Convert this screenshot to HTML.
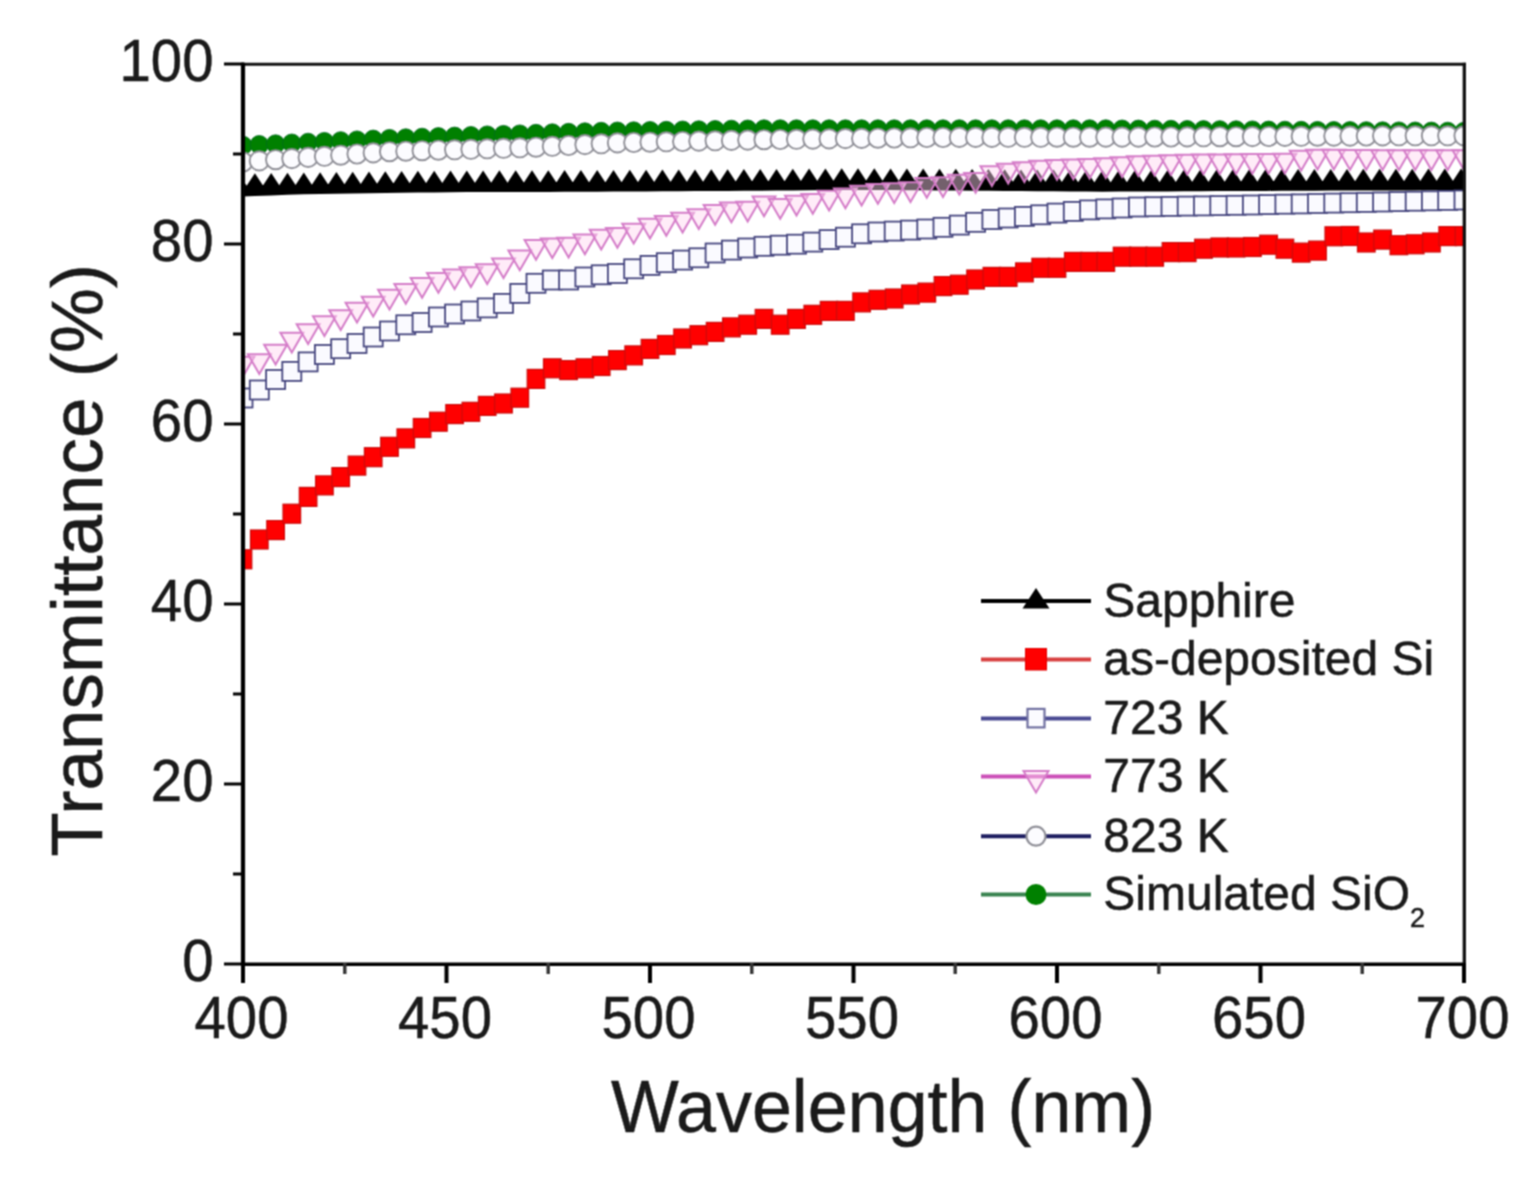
<!DOCTYPE html>
<html><head><meta charset="utf-8"><title>Transmittance vs Wavelength</title>
<style>
html,body{margin:0;padding:0;background:#fff;}
body{width:1532px;height:1180px;overflow:hidden;}
svg{display:block;}
text{font-family:"Liberation Sans",Arial,sans-serif;fill:#1a1a1a;stroke:#1a1a1a;stroke-width:0.5px;}
.tk{font-size:59px;}
.al{font-size:73.9px;}
.yl{font-size:72.9px;}
.lg{font-size:48px;}
.sub{font-size:27px;}
</style></head>
<body>
<svg width="1532" height="1180" viewBox="0 0 1532 1180">
<defs><filter id="soft" x="0" y="0" width="1532" height="1180" filterUnits="userSpaceOnUse" color-interpolation-filters="sRGB"><feConvolveMatrix order="3" kernelMatrix="1 2 1 2 4 2 1 2 1" divisor="16" edgeMode="duplicate"/></filter></defs>
<g filter="url(#soft)">
<rect width="1532" height="1180" fill="#fff"/>
<defs><clipPath id="pc"><rect x="243" y="64" width="1221" height="900"/></clipPath></defs>
<g clip-path="url(#pc)">
<polygon points="238.6,186.5 254.9,186.3 271.2,186.1 287.5,185.8 303.8,185.5 320.1,185.3 336.4,185.0 352.7,184.8 369.0,184.5 385.3,184.2 401.6,184.0 417.9,183.8 434.2,183.7 450.5,183.5 466.8,183.4 483.1,183.4 499.4,183.3 515.7,183.3 532.0,183.2 548.3,183.2 564.6,183.1 580.9,183.1 597.2,183.0 613.5,182.9 629.8,182.8 646.1,182.7 662.4,182.6 678.7,182.5 695.0,182.4 711.3,182.3 727.6,182.2 743.9,182.1 760.2,182.0 776.5,181.9 792.8,181.7 809.1,181.6 825.4,181.4 841.7,181.3 858.0,181.2 874.3,181.3 890.6,181.4 906.9,181.5 923.2,181.6 939.5,181.7 955.8,181.8 972.1,182.0 988.4,182.1 1004.7,182.2 1021.0,182.4 1037.3,182.5 1053.6,182.6 1069.9,182.8 1086.2,182.9 1102.5,183.0 1118.8,182.9 1135.1,182.8 1151.4,182.7 1167.7,182.7 1184.0,182.6 1200.3,182.5 1216.6,182.4 1232.9,182.3 1249.2,182.3 1265.5,182.2 1281.8,182.1 1298.1,182.0 1314.4,182.0 1330.7,181.9 1347.0,181.9 1363.3,181.8 1379.6,181.8 1395.9,181.7 1412.2,181.7 1428.5,181.6 1444.8,181.6 1461.1,181.5 1477.4,181.5 1477.4,190.2 1461.1,190.2 1444.8,190.3 1428.5,190.3 1412.2,190.4 1395.9,190.4 1379.6,190.5 1363.3,190.5 1347.0,190.6 1330.7,190.6 1314.4,190.7 1298.1,190.7 1281.8,190.8 1265.5,190.9 1249.2,191.0 1232.9,191.0 1216.6,191.1 1200.3,191.2 1184.0,191.3 1167.7,191.4 1151.4,191.4 1135.1,191.5 1118.8,191.6 1102.5,191.7 1086.2,191.6 1069.9,191.5 1053.6,191.3 1037.3,191.2 1021.0,191.1 1004.7,190.9 988.4,190.8 972.1,190.7 955.8,190.5 939.5,190.4 923.2,190.3 906.9,190.2 890.6,190.1 874.3,190.0 858.0,189.9 841.7,190.0 825.4,190.1 809.1,190.3 792.8,190.4 776.5,190.6 760.2,190.7 743.9,190.8 727.6,190.9 711.3,191.0 695.0,191.1 678.7,191.2 662.4,191.3 646.1,191.4 629.8,191.5 613.5,191.6 597.2,191.7 580.9,191.8 564.6,191.8 548.3,191.9 532.0,191.9 515.7,192.0 499.4,192.0 483.1,192.1 466.8,192.1 450.5,192.2 434.2,192.4 417.9,192.5 401.6,192.7 385.3,192.9 369.0,193.2 352.7,193.5 336.4,193.7 320.1,194.0 303.8,194.2 287.5,194.8 271.2,195.5 254.9,196.1 238.6,196.7" fill="#000"/>
<path d="M238.6,173.5L252.1,194.0L225.1,194.0ZM254.9,173.3L268.4,193.8L241.4,193.8ZM271.2,173.1L284.7,193.6L257.7,193.6ZM287.5,172.8L301.0,193.3L274.0,193.3ZM303.8,172.5L317.3,193.0L290.3,193.0ZM320.1,172.3L333.6,192.8L306.6,192.8ZM336.4,172.0L349.9,192.5L322.9,192.5ZM352.7,171.8L366.2,192.3L339.2,192.3ZM369.0,171.5L382.5,192.0L355.5,192.0ZM385.3,171.2L398.8,191.7L371.8,191.7ZM401.6,171.0L415.1,191.5L388.1,191.5ZM417.9,170.8L431.4,191.3L404.4,191.3ZM434.2,170.7L447.7,191.2L420.7,191.2ZM450.5,170.5L464.0,191.0L437.0,191.0ZM466.8,170.4L480.3,190.9L453.3,190.9ZM483.1,170.4L496.6,190.9L469.6,190.9ZM499.4,170.3L512.9,190.8L485.9,190.8ZM515.7,170.3L529.2,190.8L502.2,190.8ZM532.0,170.2L545.5,190.7L518.5,190.7ZM548.3,170.2L561.8,190.7L534.8,190.7ZM564.6,170.1L578.1,190.6L551.1,190.6ZM580.9,170.1L594.4,190.6L567.4,190.6ZM597.2,170.0L610.7,190.5L583.7,190.5ZM613.5,169.9L627.0,190.4L600.0,190.4ZM629.8,169.8L643.3,190.3L616.3,190.3ZM646.1,169.7L659.6,190.2L632.6,190.2ZM662.4,169.6L675.9,190.1L648.9,190.1ZM678.7,169.5L692.2,190.0L665.2,190.0ZM695.0,169.4L708.5,189.9L681.5,189.9ZM711.3,169.3L724.8,189.8L697.8,189.8ZM727.6,169.2L741.1,189.7L714.1,189.7ZM743.9,169.1L757.4,189.6L730.4,189.6ZM760.2,169.0L773.7,189.5L746.7,189.5ZM776.5,168.9L790.0,189.4L763.0,189.4ZM792.8,168.7L806.3,189.2L779.3,189.2ZM809.1,168.6L822.6,189.1L795.6,189.1ZM825.4,168.4L838.9,188.9L811.9,188.9ZM841.7,168.3L855.2,188.8L828.2,188.8ZM858.0,168.2L871.5,188.7L844.5,188.7ZM874.3,168.3L887.8,188.8L860.8,188.8ZM890.6,168.4L904.1,188.9L877.1,188.9ZM906.9,168.5L920.4,189.0L893.4,189.0ZM923.2,168.6L936.7,189.1L909.7,189.1ZM939.5,168.7L953.0,189.2L926.0,189.2ZM955.8,168.8L969.3,189.3L942.3,189.3ZM972.1,169.0L985.6,189.5L958.6,189.5ZM988.4,169.1L1001.9,189.6L974.9,189.6ZM1004.7,169.2L1018.2,189.7L991.2,189.7ZM1021.0,169.4L1034.5,189.9L1007.5,189.9ZM1037.3,169.5L1050.8,190.0L1023.8,190.0ZM1053.6,169.6L1067.1,190.1L1040.1,190.1ZM1069.9,169.8L1083.4,190.3L1056.4,190.3ZM1086.2,169.9L1099.7,190.4L1072.7,190.4ZM1102.5,170.0L1116.0,190.5L1089.0,190.5ZM1118.8,169.9L1132.3,190.4L1105.3,190.4ZM1135.1,169.8L1148.6,190.3L1121.6,190.3ZM1151.4,169.7L1164.9,190.2L1137.9,190.2ZM1167.7,169.7L1181.2,190.2L1154.2,190.2ZM1184.0,169.6L1197.5,190.1L1170.5,190.1ZM1200.3,169.5L1213.8,190.0L1186.8,190.0ZM1216.6,169.4L1230.1,189.9L1203.1,189.9ZM1232.9,169.3L1246.4,189.8L1219.4,189.8ZM1249.2,169.3L1262.7,189.8L1235.7,189.8ZM1265.5,169.2L1279.0,189.7L1252.0,189.7ZM1281.8,169.1L1295.3,189.6L1268.3,189.6ZM1298.1,169.0L1311.6,189.5L1284.6,189.5ZM1314.4,169.0L1327.9,189.5L1300.9,189.5ZM1330.7,168.9L1344.2,189.4L1317.2,189.4ZM1347.0,168.9L1360.5,189.4L1333.5,189.4ZM1363.3,168.8L1376.8,189.3L1349.8,189.3ZM1379.6,168.8L1393.1,189.3L1366.1,189.3ZM1395.9,168.7L1409.4,189.2L1382.4,189.2ZM1412.2,168.7L1425.7,189.2L1398.7,189.2ZM1428.5,168.6L1442.0,189.1L1415.0,189.1ZM1444.8,168.6L1458.3,189.1L1431.3,189.1ZM1461.1,168.5L1474.6,189.0L1447.6,189.0ZM1477.4,168.5L1490.9,189.0L1463.9,189.0Z" fill="#000"/>
<rect x="234.2" y="549.8" width="17.6" height="19.0" fill="#ff0000" stroke="#cc0a0a" stroke-width="1.2"/>
<rect x="250.5" y="530.0" width="17.6" height="19.0" fill="#ff0000" stroke="#cc0a0a" stroke-width="1.2"/>
<rect x="266.8" y="520.6" width="17.6" height="19.0" fill="#ff0000" stroke="#cc0a0a" stroke-width="1.2"/>
<rect x="283.0" y="504.2" width="17.6" height="19.0" fill="#ff0000" stroke="#cc0a0a" stroke-width="1.2"/>
<rect x="299.3" y="487.4" width="17.6" height="19.0" fill="#ff0000" stroke="#cc0a0a" stroke-width="1.2"/>
<rect x="315.6" y="475.9" width="17.6" height="19.0" fill="#ff0000" stroke="#cc0a0a" stroke-width="1.2"/>
<rect x="331.9" y="467.6" width="17.6" height="19.0" fill="#ff0000" stroke="#cc0a0a" stroke-width="1.2"/>
<rect x="348.2" y="456.1" width="17.6" height="19.0" fill="#ff0000" stroke="#cc0a0a" stroke-width="1.2"/>
<rect x="364.4" y="447.7" width="17.6" height="19.0" fill="#ff0000" stroke="#cc0a0a" stroke-width="1.2"/>
<rect x="380.7" y="437.3" width="17.6" height="19.0" fill="#ff0000" stroke="#cc0a0a" stroke-width="1.2"/>
<rect x="397.0" y="428.9" width="17.6" height="19.0" fill="#ff0000" stroke="#cc0a0a" stroke-width="1.2"/>
<rect x="413.3" y="418.5" width="17.6" height="19.0" fill="#ff0000" stroke="#cc0a0a" stroke-width="1.2"/>
<rect x="429.6" y="412.2" width="17.6" height="19.0" fill="#ff0000" stroke="#cc0a0a" stroke-width="1.2"/>
<rect x="445.8" y="404.6" width="17.6" height="19.0" fill="#ff0000" stroke="#cc0a0a" stroke-width="1.2"/>
<rect x="462.1" y="402.3" width="17.6" height="19.0" fill="#ff0000" stroke="#cc0a0a" stroke-width="1.2"/>
<rect x="478.4" y="396.4" width="17.6" height="19.0" fill="#ff0000" stroke="#cc0a0a" stroke-width="1.2"/>
<rect x="494.7" y="394.0" width="17.6" height="19.0" fill="#ff0000" stroke="#cc0a0a" stroke-width="1.2"/>
<rect x="511.0" y="388.2" width="17.6" height="19.0" fill="#ff0000" stroke="#cc0a0a" stroke-width="1.2"/>
<rect x="527.2" y="369.4" width="17.6" height="19.0" fill="#ff0000" stroke="#cc0a0a" stroke-width="1.2"/>
<rect x="543.5" y="358.8" width="17.6" height="19.0" fill="#ff0000" stroke="#cc0a0a" stroke-width="1.2"/>
<rect x="559.8" y="360.6" width="17.6" height="19.0" fill="#ff0000" stroke="#cc0a0a" stroke-width="1.2"/>
<rect x="576.1" y="358.8" width="17.6" height="19.0" fill="#ff0000" stroke="#cc0a0a" stroke-width="1.2"/>
<rect x="592.4" y="356.5" width="17.6" height="19.0" fill="#ff0000" stroke="#cc0a0a" stroke-width="1.2"/>
<rect x="608.6" y="350.6" width="17.6" height="19.0" fill="#ff0000" stroke="#cc0a0a" stroke-width="1.2"/>
<rect x="624.9" y="345.9" width="17.6" height="19.0" fill="#ff0000" stroke="#cc0a0a" stroke-width="1.2"/>
<rect x="641.2" y="339.4" width="17.6" height="19.0" fill="#ff0000" stroke="#cc0a0a" stroke-width="1.2"/>
<rect x="657.5" y="335.5" width="17.6" height="19.0" fill="#ff0000" stroke="#cc0a0a" stroke-width="1.2"/>
<rect x="673.8" y="329.0" width="17.6" height="19.0" fill="#ff0000" stroke="#cc0a0a" stroke-width="1.2"/>
<rect x="690.0" y="325.7" width="17.6" height="19.0" fill="#ff0000" stroke="#cc0a0a" stroke-width="1.2"/>
<rect x="706.3" y="322.4" width="17.6" height="19.0" fill="#ff0000" stroke="#cc0a0a" stroke-width="1.2"/>
<rect x="722.6" y="317.9" width="17.6" height="19.0" fill="#ff0000" stroke="#cc0a0a" stroke-width="1.2"/>
<rect x="738.9" y="315.2" width="17.6" height="19.0" fill="#ff0000" stroke="#cc0a0a" stroke-width="1.2"/>
<rect x="755.2" y="309.4" width="17.6" height="19.0" fill="#ff0000" stroke="#cc0a0a" stroke-width="1.2"/>
<rect x="771.4" y="315.2" width="17.6" height="19.0" fill="#ff0000" stroke="#cc0a0a" stroke-width="1.2"/>
<rect x="787.7" y="309.4" width="17.6" height="19.0" fill="#ff0000" stroke="#cc0a0a" stroke-width="1.2"/>
<rect x="804.0" y="305.3" width="17.6" height="19.0" fill="#ff0000" stroke="#cc0a0a" stroke-width="1.2"/>
<rect x="820.3" y="301.4" width="17.6" height="19.0" fill="#ff0000" stroke="#cc0a0a" stroke-width="1.2"/>
<rect x="836.6" y="301.4" width="17.6" height="19.0" fill="#ff0000" stroke="#cc0a0a" stroke-width="1.2"/>
<rect x="852.8" y="292.9" width="17.6" height="19.0" fill="#ff0000" stroke="#cc0a0a" stroke-width="1.2"/>
<rect x="869.1" y="290.3" width="17.6" height="19.0" fill="#ff0000" stroke="#cc0a0a" stroke-width="1.2"/>
<rect x="885.4" y="289.0" width="17.6" height="19.0" fill="#ff0000" stroke="#cc0a0a" stroke-width="1.2"/>
<rect x="901.7" y="285.0" width="17.6" height="19.0" fill="#ff0000" stroke="#cc0a0a" stroke-width="1.2"/>
<rect x="918.0" y="283.1" width="17.6" height="19.0" fill="#ff0000" stroke="#cc0a0a" stroke-width="1.2"/>
<rect x="934.2" y="276.6" width="17.6" height="19.0" fill="#ff0000" stroke="#cc0a0a" stroke-width="1.2"/>
<rect x="950.5" y="275.2" width="17.6" height="19.0" fill="#ff0000" stroke="#cc0a0a" stroke-width="1.2"/>
<rect x="966.8" y="270.0" width="17.6" height="19.0" fill="#ff0000" stroke="#cc0a0a" stroke-width="1.2"/>
<rect x="983.1" y="267.4" width="17.6" height="19.0" fill="#ff0000" stroke="#cc0a0a" stroke-width="1.2"/>
<rect x="999.4" y="267.4" width="17.6" height="19.0" fill="#ff0000" stroke="#cc0a0a" stroke-width="1.2"/>
<rect x="1015.6" y="262.9" width="17.6" height="19.0" fill="#ff0000" stroke="#cc0a0a" stroke-width="1.2"/>
<rect x="1031.9" y="258.3" width="17.6" height="19.0" fill="#ff0000" stroke="#cc0a0a" stroke-width="1.2"/>
<rect x="1048.2" y="258.3" width="17.6" height="19.0" fill="#ff0000" stroke="#cc0a0a" stroke-width="1.2"/>
<rect x="1064.5" y="252.4" width="17.6" height="19.0" fill="#ff0000" stroke="#cc0a0a" stroke-width="1.2"/>
<rect x="1080.8" y="252.4" width="17.6" height="19.0" fill="#ff0000" stroke="#cc0a0a" stroke-width="1.2"/>
<rect x="1097.0" y="252.4" width="17.6" height="19.0" fill="#ff0000" stroke="#cc0a0a" stroke-width="1.2"/>
<rect x="1113.3" y="247.2" width="17.6" height="19.0" fill="#ff0000" stroke="#cc0a0a" stroke-width="1.2"/>
<rect x="1129.6" y="247.2" width="17.6" height="19.0" fill="#ff0000" stroke="#cc0a0a" stroke-width="1.2"/>
<rect x="1145.9" y="247.2" width="17.6" height="19.0" fill="#ff0000" stroke="#cc0a0a" stroke-width="1.2"/>
<rect x="1162.2" y="242.6" width="17.6" height="19.0" fill="#ff0000" stroke="#cc0a0a" stroke-width="1.2"/>
<rect x="1178.4" y="242.6" width="17.6" height="19.0" fill="#ff0000" stroke="#cc0a0a" stroke-width="1.2"/>
<rect x="1194.7" y="239.2" width="17.6" height="19.0" fill="#ff0000" stroke="#cc0a0a" stroke-width="1.2"/>
<rect x="1211.0" y="238.0" width="17.6" height="19.0" fill="#ff0000" stroke="#cc0a0a" stroke-width="1.2"/>
<rect x="1227.3" y="238.0" width="17.6" height="19.0" fill="#ff0000" stroke="#cc0a0a" stroke-width="1.2"/>
<rect x="1243.6" y="237.5" width="17.6" height="19.0" fill="#ff0000" stroke="#cc0a0a" stroke-width="1.2"/>
<rect x="1259.8" y="235.2" width="17.6" height="19.0" fill="#ff0000" stroke="#cc0a0a" stroke-width="1.2"/>
<rect x="1276.1" y="239.2" width="17.6" height="19.0" fill="#ff0000" stroke="#cc0a0a" stroke-width="1.2"/>
<rect x="1292.4" y="243.1" width="17.6" height="19.0" fill="#ff0000" stroke="#cc0a0a" stroke-width="1.2"/>
<rect x="1308.7" y="241.1" width="17.6" height="19.0" fill="#ff0000" stroke="#cc0a0a" stroke-width="1.2"/>
<rect x="1325.0" y="226.8" width="17.6" height="19.0" fill="#ff0000" stroke="#cc0a0a" stroke-width="1.2"/>
<rect x="1341.2" y="226.5" width="17.6" height="19.0" fill="#ff0000" stroke="#cc0a0a" stroke-width="1.2"/>
<rect x="1357.5" y="233.0" width="17.6" height="19.0" fill="#ff0000" stroke="#cc0a0a" stroke-width="1.2"/>
<rect x="1373.8" y="230.1" width="17.6" height="19.0" fill="#ff0000" stroke="#cc0a0a" stroke-width="1.2"/>
<rect x="1390.1" y="235.7" width="17.6" height="19.0" fill="#ff0000" stroke="#cc0a0a" stroke-width="1.2"/>
<rect x="1406.4" y="234.8" width="17.6" height="19.0" fill="#ff0000" stroke="#cc0a0a" stroke-width="1.2"/>
<rect x="1422.6" y="233.0" width="17.6" height="19.0" fill="#ff0000" stroke="#cc0a0a" stroke-width="1.2"/>
<rect x="1438.9" y="226.6" width="17.6" height="19.0" fill="#ff0000" stroke="#cc0a0a" stroke-width="1.2"/>
<rect x="1455.2" y="226.6" width="17.6" height="19.0" fill="#ff0000" stroke="#cc0a0a" stroke-width="1.2"/>
<rect x="233.5" y="388.5" width="19.0" height="19.0" fill="#fafaff" stroke="#45457e" stroke-width="1.8"/>
<rect x="249.8" y="380.5" width="19.0" height="19.0" fill="#fafaff" stroke="#45457e" stroke-width="1.8"/>
<rect x="266.1" y="370.0" width="19.0" height="19.0" fill="#fafaff" stroke="#45457e" stroke-width="1.8"/>
<rect x="282.3" y="361.9" width="19.0" height="19.0" fill="#fafaff" stroke="#45457e" stroke-width="1.8"/>
<rect x="298.6" y="352.4" width="19.0" height="19.0" fill="#fafaff" stroke="#45457e" stroke-width="1.8"/>
<rect x="314.9" y="345.0" width="19.0" height="19.0" fill="#fafaff" stroke="#45457e" stroke-width="1.8"/>
<rect x="331.2" y="339.2" width="19.0" height="19.0" fill="#fafaff" stroke="#45457e" stroke-width="1.8"/>
<rect x="347.5" y="334.0" width="19.0" height="19.0" fill="#fafaff" stroke="#45457e" stroke-width="1.8"/>
<rect x="363.7" y="327.5" width="19.0" height="19.0" fill="#fafaff" stroke="#45457e" stroke-width="1.8"/>
<rect x="380.0" y="321.5" width="19.0" height="19.0" fill="#fafaff" stroke="#45457e" stroke-width="1.8"/>
<rect x="396.3" y="315.3" width="19.0" height="19.0" fill="#fafaff" stroke="#45457e" stroke-width="1.8"/>
<rect x="412.6" y="313.0" width="19.0" height="19.0" fill="#fafaff" stroke="#45457e" stroke-width="1.8"/>
<rect x="428.9" y="307.5" width="19.0" height="19.0" fill="#fafaff" stroke="#45457e" stroke-width="1.8"/>
<rect x="445.1" y="304.5" width="19.0" height="19.0" fill="#fafaff" stroke="#45457e" stroke-width="1.8"/>
<rect x="461.4" y="301.5" width="19.0" height="19.0" fill="#fafaff" stroke="#45457e" stroke-width="1.8"/>
<rect x="477.7" y="298.4" width="19.0" height="19.0" fill="#fafaff" stroke="#45457e" stroke-width="1.8"/>
<rect x="494.0" y="293.9" width="19.0" height="19.0" fill="#fafaff" stroke="#45457e" stroke-width="1.8"/>
<rect x="510.3" y="283.9" width="19.0" height="19.0" fill="#fafaff" stroke="#45457e" stroke-width="1.8"/>
<rect x="526.5" y="273.8" width="19.0" height="19.0" fill="#fafaff" stroke="#45457e" stroke-width="1.8"/>
<rect x="542.8" y="270.5" width="19.0" height="19.0" fill="#fafaff" stroke="#45457e" stroke-width="1.8"/>
<rect x="559.1" y="270.5" width="19.0" height="19.0" fill="#fafaff" stroke="#45457e" stroke-width="1.8"/>
<rect x="575.4" y="267.5" width="19.0" height="19.0" fill="#fafaff" stroke="#45457e" stroke-width="1.8"/>
<rect x="591.7" y="265.3" width="19.0" height="19.0" fill="#fafaff" stroke="#45457e" stroke-width="1.8"/>
<rect x="607.9" y="264.0" width="19.0" height="19.0" fill="#fafaff" stroke="#45457e" stroke-width="1.8"/>
<rect x="624.2" y="259.3" width="19.0" height="19.0" fill="#fafaff" stroke="#45457e" stroke-width="1.8"/>
<rect x="640.5" y="255.9" width="19.0" height="19.0" fill="#fafaff" stroke="#45457e" stroke-width="1.8"/>
<rect x="656.8" y="253.2" width="19.0" height="19.0" fill="#fafaff" stroke="#45457e" stroke-width="1.8"/>
<rect x="673.1" y="250.6" width="19.0" height="19.0" fill="#fafaff" stroke="#45457e" stroke-width="1.8"/>
<rect x="689.3" y="248.3" width="19.0" height="19.0" fill="#fafaff" stroke="#45457e" stroke-width="1.8"/>
<rect x="705.6" y="243.5" width="19.0" height="19.0" fill="#fafaff" stroke="#45457e" stroke-width="1.8"/>
<rect x="721.9" y="240.6" width="19.0" height="19.0" fill="#fafaff" stroke="#45457e" stroke-width="1.8"/>
<rect x="738.2" y="238.5" width="19.0" height="19.0" fill="#fafaff" stroke="#45457e" stroke-width="1.8"/>
<rect x="754.5" y="236.8" width="19.0" height="19.0" fill="#fafaff" stroke="#45457e" stroke-width="1.8"/>
<rect x="770.7" y="235.7" width="19.0" height="19.0" fill="#fafaff" stroke="#45457e" stroke-width="1.8"/>
<rect x="787.0" y="234.7" width="19.0" height="19.0" fill="#fafaff" stroke="#45457e" stroke-width="1.8"/>
<rect x="803.3" y="232.6" width="19.0" height="19.0" fill="#fafaff" stroke="#45457e" stroke-width="1.8"/>
<rect x="819.6" y="230.1" width="19.0" height="19.0" fill="#fafaff" stroke="#45457e" stroke-width="1.8"/>
<rect x="835.9" y="227.7" width="19.0" height="19.0" fill="#fafaff" stroke="#45457e" stroke-width="1.8"/>
<rect x="852.1" y="224.3" width="19.0" height="19.0" fill="#fafaff" stroke="#45457e" stroke-width="1.8"/>
<rect x="868.4" y="222.5" width="19.0" height="19.0" fill="#fafaff" stroke="#45457e" stroke-width="1.8"/>
<rect x="884.7" y="221.6" width="19.0" height="19.0" fill="#fafaff" stroke="#45457e" stroke-width="1.8"/>
<rect x="901.0" y="220.6" width="19.0" height="19.0" fill="#fafaff" stroke="#45457e" stroke-width="1.8"/>
<rect x="917.3" y="219.5" width="19.0" height="19.0" fill="#fafaff" stroke="#45457e" stroke-width="1.8"/>
<rect x="933.5" y="217.8" width="19.0" height="19.0" fill="#fafaff" stroke="#45457e" stroke-width="1.8"/>
<rect x="949.8" y="215.6" width="19.0" height="19.0" fill="#fafaff" stroke="#45457e" stroke-width="1.8"/>
<rect x="966.1" y="212.8" width="19.0" height="19.0" fill="#fafaff" stroke="#45457e" stroke-width="1.8"/>
<rect x="982.4" y="210.0" width="19.0" height="19.0" fill="#fafaff" stroke="#45457e" stroke-width="1.8"/>
<rect x="998.7" y="208.5" width="19.0" height="19.0" fill="#fafaff" stroke="#45457e" stroke-width="1.8"/>
<rect x="1014.9" y="206.9" width="19.0" height="19.0" fill="#fafaff" stroke="#45457e" stroke-width="1.8"/>
<rect x="1031.2" y="205.3" width="19.0" height="19.0" fill="#fafaff" stroke="#45457e" stroke-width="1.8"/>
<rect x="1047.5" y="203.6" width="19.0" height="19.0" fill="#fafaff" stroke="#45457e" stroke-width="1.8"/>
<rect x="1063.8" y="201.9" width="19.0" height="19.0" fill="#fafaff" stroke="#45457e" stroke-width="1.8"/>
<rect x="1080.1" y="200.4" width="19.0" height="19.0" fill="#fafaff" stroke="#45457e" stroke-width="1.8"/>
<rect x="1096.3" y="199.4" width="19.0" height="19.0" fill="#fafaff" stroke="#45457e" stroke-width="1.8"/>
<rect x="1112.6" y="198.5" width="19.0" height="19.0" fill="#fafaff" stroke="#45457e" stroke-width="1.8"/>
<rect x="1128.9" y="197.5" width="19.0" height="19.0" fill="#fafaff" stroke="#45457e" stroke-width="1.8"/>
<rect x="1145.2" y="197.2" width="19.0" height="19.0" fill="#fafaff" stroke="#45457e" stroke-width="1.8"/>
<rect x="1161.5" y="196.9" width="19.0" height="19.0" fill="#fafaff" stroke="#45457e" stroke-width="1.8"/>
<rect x="1177.7" y="196.6" width="19.0" height="19.0" fill="#fafaff" stroke="#45457e" stroke-width="1.8"/>
<rect x="1194.0" y="196.4" width="19.0" height="19.0" fill="#fafaff" stroke="#45457e" stroke-width="1.8"/>
<rect x="1210.3" y="196.1" width="19.0" height="19.0" fill="#fafaff" stroke="#45457e" stroke-width="1.8"/>
<rect x="1226.6" y="195.8" width="19.0" height="19.0" fill="#fafaff" stroke="#45457e" stroke-width="1.8"/>
<rect x="1242.9" y="195.5" width="19.0" height="19.0" fill="#fafaff" stroke="#45457e" stroke-width="1.8"/>
<rect x="1259.1" y="195.1" width="19.0" height="19.0" fill="#fafaff" stroke="#45457e" stroke-width="1.8"/>
<rect x="1275.4" y="194.7" width="19.0" height="19.0" fill="#fafaff" stroke="#45457e" stroke-width="1.8"/>
<rect x="1291.7" y="194.4" width="19.0" height="19.0" fill="#fafaff" stroke="#45457e" stroke-width="1.8"/>
<rect x="1308.0" y="194.0" width="19.0" height="19.0" fill="#fafaff" stroke="#45457e" stroke-width="1.8"/>
<rect x="1324.3" y="193.6" width="19.0" height="19.0" fill="#fafaff" stroke="#45457e" stroke-width="1.8"/>
<rect x="1340.5" y="193.2" width="19.0" height="19.0" fill="#fafaff" stroke="#45457e" stroke-width="1.8"/>
<rect x="1356.8" y="192.9" width="19.0" height="19.0" fill="#fafaff" stroke="#45457e" stroke-width="1.8"/>
<rect x="1373.1" y="192.5" width="19.0" height="19.0" fill="#fafaff" stroke="#45457e" stroke-width="1.8"/>
<rect x="1389.4" y="192.1" width="19.0" height="19.0" fill="#fafaff" stroke="#45457e" stroke-width="1.8"/>
<rect x="1405.7" y="191.7" width="19.0" height="19.0" fill="#fafaff" stroke="#45457e" stroke-width="1.8"/>
<rect x="1421.9" y="191.3" width="19.0" height="19.0" fill="#fafaff" stroke="#45457e" stroke-width="1.8"/>
<rect x="1438.2" y="190.9" width="19.0" height="19.0" fill="#fafaff" stroke="#45457e" stroke-width="1.8"/>
<rect x="1454.5" y="190.5" width="19.0" height="19.0" fill="#fafaff" stroke="#45457e" stroke-width="1.8"/>
<path d="M231.6,356.7h22.8L243.0,376.4Z" fill="#ffd4f0" fill-opacity="0.45" stroke="#d47cc8" stroke-width="2"/>
<path d="M247.9,354.2h22.8L259.3,373.9Z" fill="#ffd4f0" fill-opacity="0.45" stroke="#d47cc8" stroke-width="2"/>
<path d="M264.2,344.7h22.8L275.6,364.4Z" fill="#ffd4f0" fill-opacity="0.45" stroke="#d47cc8" stroke-width="2"/>
<path d="M280.4,332.7h22.8L291.8,352.4Z" fill="#ffd4f0" fill-opacity="0.45" stroke="#d47cc8" stroke-width="2"/>
<path d="M296.7,324.2h22.8L308.1,343.9Z" fill="#ffd4f0" fill-opacity="0.45" stroke="#d47cc8" stroke-width="2"/>
<path d="M313.0,316.3h22.8L324.4,336.0Z" fill="#ffd4f0" fill-opacity="0.45" stroke="#d47cc8" stroke-width="2"/>
<path d="M329.3,310.2h22.8L340.7,329.9Z" fill="#ffd4f0" fill-opacity="0.45" stroke="#d47cc8" stroke-width="2"/>
<path d="M345.6,302.7h22.8L357.0,322.4Z" fill="#ffd4f0" fill-opacity="0.45" stroke="#d47cc8" stroke-width="2"/>
<path d="M361.8,296.7h22.8L373.2,316.4Z" fill="#ffd4f0" fill-opacity="0.45" stroke="#d47cc8" stroke-width="2"/>
<path d="M378.1,289.7h22.8L389.5,309.4Z" fill="#ffd4f0" fill-opacity="0.45" stroke="#d47cc8" stroke-width="2"/>
<path d="M394.4,284.1h22.8L405.8,303.8Z" fill="#ffd4f0" fill-opacity="0.45" stroke="#d47cc8" stroke-width="2"/>
<path d="M410.7,278.0h22.8L422.1,297.7Z" fill="#ffd4f0" fill-opacity="0.45" stroke="#d47cc8" stroke-width="2"/>
<path d="M427.0,273.0h22.8L438.4,292.7Z" fill="#ffd4f0" fill-opacity="0.45" stroke="#d47cc8" stroke-width="2"/>
<path d="M443.2,269.4h22.8L454.6,289.1Z" fill="#ffd4f0" fill-opacity="0.45" stroke="#d47cc8" stroke-width="2"/>
<path d="M459.5,267.2h22.8L470.9,286.9Z" fill="#ffd4f0" fill-opacity="0.45" stroke="#d47cc8" stroke-width="2"/>
<path d="M475.8,264.3h22.8L487.2,284.0Z" fill="#ffd4f0" fill-opacity="0.45" stroke="#d47cc8" stroke-width="2"/>
<path d="M492.1,258.4h22.8L503.5,278.1Z" fill="#ffd4f0" fill-opacity="0.45" stroke="#d47cc8" stroke-width="2"/>
<path d="M508.4,250.6h22.8L519.8,270.3Z" fill="#ffd4f0" fill-opacity="0.45" stroke="#d47cc8" stroke-width="2"/>
<path d="M524.6,240.0h22.8L536.0,259.7Z" fill="#ffd4f0" fill-opacity="0.45" stroke="#d47cc8" stroke-width="2"/>
<path d="M540.9,238.4h22.8L552.3,258.1Z" fill="#ffd4f0" fill-opacity="0.45" stroke="#d47cc8" stroke-width="2"/>
<path d="M557.2,237.7h22.8L568.6,257.4Z" fill="#ffd4f0" fill-opacity="0.45" stroke="#d47cc8" stroke-width="2"/>
<path d="M573.5,234.5h22.8L584.9,254.2Z" fill="#ffd4f0" fill-opacity="0.45" stroke="#d47cc8" stroke-width="2"/>
<path d="M589.8,229.7h22.8L601.2,249.4Z" fill="#ffd4f0" fill-opacity="0.45" stroke="#d47cc8" stroke-width="2"/>
<path d="M606.0,228.0h22.8L617.4,247.7Z" fill="#ffd4f0" fill-opacity="0.45" stroke="#d47cc8" stroke-width="2"/>
<path d="M622.3,223.7h22.8L633.7,243.4Z" fill="#ffd4f0" fill-opacity="0.45" stroke="#d47cc8" stroke-width="2"/>
<path d="M638.6,218.7h22.8L650.0,238.4Z" fill="#ffd4f0" fill-opacity="0.45" stroke="#d47cc8" stroke-width="2"/>
<path d="M654.9,216.1h22.8L666.3,235.8Z" fill="#ffd4f0" fill-opacity="0.45" stroke="#d47cc8" stroke-width="2"/>
<path d="M671.2,212.7h22.8L682.6,232.4Z" fill="#ffd4f0" fill-opacity="0.45" stroke="#d47cc8" stroke-width="2"/>
<path d="M687.4,209.3h22.8L698.8,229.0Z" fill="#ffd4f0" fill-opacity="0.45" stroke="#d47cc8" stroke-width="2"/>
<path d="M703.7,205.0h22.8L715.1,224.7Z" fill="#ffd4f0" fill-opacity="0.45" stroke="#d47cc8" stroke-width="2"/>
<path d="M720.0,202.5h22.8L731.4,222.2Z" fill="#ffd4f0" fill-opacity="0.45" stroke="#d47cc8" stroke-width="2"/>
<path d="M736.3,201.7h22.8L747.7,221.4Z" fill="#ffd4f0" fill-opacity="0.45" stroke="#d47cc8" stroke-width="2"/>
<path d="M752.6,196.6h22.8L764.0,216.3Z" fill="#ffd4f0" fill-opacity="0.45" stroke="#d47cc8" stroke-width="2"/>
<path d="M768.8,199.1h22.8L780.2,218.8Z" fill="#ffd4f0" fill-opacity="0.45" stroke="#d47cc8" stroke-width="2"/>
<path d="M785.1,195.7h22.8L796.5,215.4Z" fill="#ffd4f0" fill-opacity="0.45" stroke="#d47cc8" stroke-width="2"/>
<path d="M801.4,194.0h22.8L812.8,213.7Z" fill="#ffd4f0" fill-opacity="0.45" stroke="#d47cc8" stroke-width="2"/>
<path d="M817.7,190.7h22.8L829.1,210.4Z" fill="#ffd4f0" fill-opacity="0.45" stroke="#d47cc8" stroke-width="2"/>
<path d="M834.0,188.6h22.8L845.4,208.3Z" fill="#ffd4f0" fill-opacity="0.45" stroke="#d47cc8" stroke-width="2"/>
<path d="M850.2,185.7h22.8L861.6,205.4Z" fill="#ffd4f0" fill-opacity="0.45" stroke="#d47cc8" stroke-width="2"/>
<path d="M866.5,184.0h22.8L877.9,203.7Z" fill="#ffd4f0" fill-opacity="0.45" stroke="#d47cc8" stroke-width="2"/>
<path d="M882.8,183.2h22.8L894.2,202.9Z" fill="#ffd4f0" fill-opacity="0.45" stroke="#d47cc8" stroke-width="2"/>
<path d="M899.1,182.3h22.8L910.5,202.0Z" fill="#ffd4f0" fill-opacity="0.45" stroke="#d47cc8" stroke-width="2"/>
<path d="M915.4,178.1h22.8L926.8,197.8Z" fill="#ffd4f0" fill-opacity="0.45" stroke="#d47cc8" stroke-width="2"/>
<path d="M931.6,177.2h22.8L943.0,196.9Z" fill="#ffd4f0" fill-opacity="0.45" stroke="#d47cc8" stroke-width="2"/>
<path d="M947.9,174.7h22.8L959.3,194.4Z" fill="#ffd4f0" fill-opacity="0.45" stroke="#d47cc8" stroke-width="2"/>
<path d="M964.2,173.0h22.8L975.6,192.7Z" fill="#ffd4f0" fill-opacity="0.45" stroke="#d47cc8" stroke-width="2"/>
<path d="M980.5,166.2h22.8L991.9,185.9Z" fill="#ffd4f0" fill-opacity="0.45" stroke="#d47cc8" stroke-width="2"/>
<path d="M996.8,163.7h22.8L1008.2,183.4Z" fill="#ffd4f0" fill-opacity="0.45" stroke="#d47cc8" stroke-width="2"/>
<path d="M1013.0,162.2h22.8L1024.4,181.9Z" fill="#ffd4f0" fill-opacity="0.45" stroke="#d47cc8" stroke-width="2"/>
<path d="M1029.3,160.7h22.8L1040.7,180.4Z" fill="#ffd4f0" fill-opacity="0.45" stroke="#d47cc8" stroke-width="2"/>
<path d="M1045.6,160.0h22.8L1057.0,179.7Z" fill="#ffd4f0" fill-opacity="0.45" stroke="#d47cc8" stroke-width="2"/>
<path d="M1061.9,159.5h22.8L1073.3,179.2Z" fill="#ffd4f0" fill-opacity="0.45" stroke="#d47cc8" stroke-width="2"/>
<path d="M1078.2,158.9h22.8L1089.6,178.6Z" fill="#ffd4f0" fill-opacity="0.45" stroke="#d47cc8" stroke-width="2"/>
<path d="M1094.4,158.3h22.8L1105.8,178.0Z" fill="#ffd4f0" fill-opacity="0.45" stroke="#d47cc8" stroke-width="2"/>
<path d="M1110.7,157.2h22.8L1122.1,176.9Z" fill="#ffd4f0" fill-opacity="0.45" stroke="#d47cc8" stroke-width="2"/>
<path d="M1127.0,156.2h22.8L1138.4,175.9Z" fill="#ffd4f0" fill-opacity="0.45" stroke="#d47cc8" stroke-width="2"/>
<path d="M1143.3,155.7h22.8L1154.7,175.4Z" fill="#ffd4f0" fill-opacity="0.45" stroke="#d47cc8" stroke-width="2"/>
<path d="M1159.6,155.2h22.8L1171.0,174.9Z" fill="#ffd4f0" fill-opacity="0.45" stroke="#d47cc8" stroke-width="2"/>
<path d="M1175.8,154.7h22.8L1187.2,174.4Z" fill="#ffd4f0" fill-opacity="0.45" stroke="#d47cc8" stroke-width="2"/>
<path d="M1192.1,154.5h22.8L1203.5,174.2Z" fill="#ffd4f0" fill-opacity="0.45" stroke="#d47cc8" stroke-width="2"/>
<path d="M1208.4,154.4h22.8L1219.8,174.1Z" fill="#ffd4f0" fill-opacity="0.45" stroke="#d47cc8" stroke-width="2"/>
<path d="M1224.7,154.2h22.8L1236.1,173.9Z" fill="#ffd4f0" fill-opacity="0.45" stroke="#d47cc8" stroke-width="2"/>
<path d="M1241.0,154.0h22.8L1252.4,173.7Z" fill="#ffd4f0" fill-opacity="0.45" stroke="#d47cc8" stroke-width="2"/>
<path d="M1257.2,153.9h22.8L1268.6,173.6Z" fill="#ffd4f0" fill-opacity="0.45" stroke="#d47cc8" stroke-width="2"/>
<path d="M1273.5,153.7h22.8L1284.9,173.4Z" fill="#ffd4f0" fill-opacity="0.45" stroke="#d47cc8" stroke-width="2"/>
<path d="M1289.8,150.7h22.8L1301.2,170.4Z" fill="#ffd4f0" fill-opacity="0.45" stroke="#d47cc8" stroke-width="2"/>
<path d="M1306.1,149.7h22.8L1317.5,169.4Z" fill="#ffd4f0" fill-opacity="0.45" stroke="#d47cc8" stroke-width="2"/>
<path d="M1322.4,149.8h22.8L1333.8,169.5Z" fill="#ffd4f0" fill-opacity="0.45" stroke="#d47cc8" stroke-width="2"/>
<path d="M1338.6,149.9h22.8L1350.0,169.7Z" fill="#ffd4f0" fill-opacity="0.45" stroke="#d47cc8" stroke-width="2"/>
<path d="M1354.9,150.1h22.8L1366.3,169.8Z" fill="#ffd4f0" fill-opacity="0.45" stroke="#d47cc8" stroke-width="2"/>
<path d="M1371.2,150.2h22.8L1382.6,169.9Z" fill="#ffd4f0" fill-opacity="0.45" stroke="#d47cc8" stroke-width="2"/>
<path d="M1387.5,150.2h22.8L1398.9,169.9Z" fill="#ffd4f0" fill-opacity="0.45" stroke="#d47cc8" stroke-width="2"/>
<path d="M1403.8,150.2h22.8L1415.2,169.9Z" fill="#ffd4f0" fill-opacity="0.45" stroke="#d47cc8" stroke-width="2"/>
<path d="M1420.0,150.2h22.8L1431.4,169.9Z" fill="#ffd4f0" fill-opacity="0.45" stroke="#d47cc8" stroke-width="2"/>
<path d="M1436.3,150.2h22.8L1447.7,169.9Z" fill="#ffd4f0" fill-opacity="0.45" stroke="#d47cc8" stroke-width="2"/>
<path d="M1452.6,150.2h22.8L1464.0,169.9Z" fill="#ffd4f0" fill-opacity="0.45" stroke="#d47cc8" stroke-width="2"/>
<polyline points="243.0,145.5 259.3,144.7 275.6,144.0 291.8,143.2 308.1,142.4 324.4,141.6 340.7,140.9 357.0,140.1 373.2,139.3 389.5,138.6 405.8,138.0 422.1,137.4 438.4,136.8 454.6,136.3 470.9,135.7 487.2,135.1 503.5,134.6 519.8,134.1 536.0,133.5 552.3,133.0 568.6,132.5 584.9,132.0 601.2,131.5 617.4,131.2 633.7,131.0 650.0,130.7 666.3,130.5 682.6,130.2 698.8,130.0 715.1,129.7 731.4,129.4 747.7,129.2 764.0,129.0 780.2,129.0 796.5,129.0 812.8,129.0 829.1,129.0 845.4,129.0 861.6,129.0 877.9,129.0 894.2,129.0 910.5,129.0 926.8,129.0 943.0,129.0 959.3,129.0 975.6,129.0 991.9,129.0 1008.2,129.0 1024.4,129.0 1040.7,129.0 1057.0,129.0 1073.3,129.0 1089.6,129.0 1105.8,129.0 1122.1,129.2 1138.4,129.3 1154.7,129.4 1171.0,129.5 1187.2,129.7 1203.5,129.8 1219.8,129.9 1236.1,130.0 1252.4,130.1 1268.6,130.3 1284.9,130.4 1301.2,130.5 1317.5,130.6 1333.8,130.7 1350.0,130.8 1366.3,130.9 1382.6,131.0 1398.9,131.1 1415.2,131.2 1431.4,131.3 1447.7,131.4 1464.0,131.5" fill="none" stroke="#006a20" stroke-width="3"/>
<circle cx="243.0" cy="145.5" r="9.2" fill="#008000" stroke="#006a20" stroke-width="0.8"/>
<circle cx="259.3" cy="144.7" r="9.2" fill="#008000" stroke="#006a20" stroke-width="0.8"/>
<circle cx="275.6" cy="144.0" r="9.2" fill="#008000" stroke="#006a20" stroke-width="0.8"/>
<circle cx="291.8" cy="143.2" r="9.2" fill="#008000" stroke="#006a20" stroke-width="0.8"/>
<circle cx="308.1" cy="142.4" r="9.2" fill="#008000" stroke="#006a20" stroke-width="0.8"/>
<circle cx="324.4" cy="141.6" r="9.2" fill="#008000" stroke="#006a20" stroke-width="0.8"/>
<circle cx="340.7" cy="140.9" r="9.2" fill="#008000" stroke="#006a20" stroke-width="0.8"/>
<circle cx="357.0" cy="140.1" r="9.2" fill="#008000" stroke="#006a20" stroke-width="0.8"/>
<circle cx="373.2" cy="139.3" r="9.2" fill="#008000" stroke="#006a20" stroke-width="0.8"/>
<circle cx="389.5" cy="138.6" r="9.2" fill="#008000" stroke="#006a20" stroke-width="0.8"/>
<circle cx="405.8" cy="138.0" r="9.2" fill="#008000" stroke="#006a20" stroke-width="0.8"/>
<circle cx="422.1" cy="137.4" r="9.2" fill="#008000" stroke="#006a20" stroke-width="0.8"/>
<circle cx="438.4" cy="136.8" r="9.2" fill="#008000" stroke="#006a20" stroke-width="0.8"/>
<circle cx="454.6" cy="136.3" r="9.2" fill="#008000" stroke="#006a20" stroke-width="0.8"/>
<circle cx="470.9" cy="135.7" r="9.2" fill="#008000" stroke="#006a20" stroke-width="0.8"/>
<circle cx="487.2" cy="135.1" r="9.2" fill="#008000" stroke="#006a20" stroke-width="0.8"/>
<circle cx="503.5" cy="134.6" r="9.2" fill="#008000" stroke="#006a20" stroke-width="0.8"/>
<circle cx="519.8" cy="134.1" r="9.2" fill="#008000" stroke="#006a20" stroke-width="0.8"/>
<circle cx="536.0" cy="133.5" r="9.2" fill="#008000" stroke="#006a20" stroke-width="0.8"/>
<circle cx="552.3" cy="133.0" r="9.2" fill="#008000" stroke="#006a20" stroke-width="0.8"/>
<circle cx="568.6" cy="132.5" r="9.2" fill="#008000" stroke="#006a20" stroke-width="0.8"/>
<circle cx="584.9" cy="132.0" r="9.2" fill="#008000" stroke="#006a20" stroke-width="0.8"/>
<circle cx="601.2" cy="131.5" r="9.2" fill="#008000" stroke="#006a20" stroke-width="0.8"/>
<circle cx="617.4" cy="131.2" r="9.2" fill="#008000" stroke="#006a20" stroke-width="0.8"/>
<circle cx="633.7" cy="131.0" r="9.2" fill="#008000" stroke="#006a20" stroke-width="0.8"/>
<circle cx="650.0" cy="130.7" r="9.2" fill="#008000" stroke="#006a20" stroke-width="0.8"/>
<circle cx="666.3" cy="130.5" r="9.2" fill="#008000" stroke="#006a20" stroke-width="0.8"/>
<circle cx="682.6" cy="130.2" r="9.2" fill="#008000" stroke="#006a20" stroke-width="0.8"/>
<circle cx="698.8" cy="130.0" r="9.2" fill="#008000" stroke="#006a20" stroke-width="0.8"/>
<circle cx="715.1" cy="129.7" r="9.2" fill="#008000" stroke="#006a20" stroke-width="0.8"/>
<circle cx="731.4" cy="129.4" r="9.2" fill="#008000" stroke="#006a20" stroke-width="0.8"/>
<circle cx="747.7" cy="129.2" r="9.2" fill="#008000" stroke="#006a20" stroke-width="0.8"/>
<circle cx="764.0" cy="129.0" r="9.2" fill="#008000" stroke="#006a20" stroke-width="0.8"/>
<circle cx="780.2" cy="129.0" r="9.2" fill="#008000" stroke="#006a20" stroke-width="0.8"/>
<circle cx="796.5" cy="129.0" r="9.2" fill="#008000" stroke="#006a20" stroke-width="0.8"/>
<circle cx="812.8" cy="129.0" r="9.2" fill="#008000" stroke="#006a20" stroke-width="0.8"/>
<circle cx="829.1" cy="129.0" r="9.2" fill="#008000" stroke="#006a20" stroke-width="0.8"/>
<circle cx="845.4" cy="129.0" r="9.2" fill="#008000" stroke="#006a20" stroke-width="0.8"/>
<circle cx="861.6" cy="129.0" r="9.2" fill="#008000" stroke="#006a20" stroke-width="0.8"/>
<circle cx="877.9" cy="129.0" r="9.2" fill="#008000" stroke="#006a20" stroke-width="0.8"/>
<circle cx="894.2" cy="129.0" r="9.2" fill="#008000" stroke="#006a20" stroke-width="0.8"/>
<circle cx="910.5" cy="129.0" r="9.2" fill="#008000" stroke="#006a20" stroke-width="0.8"/>
<circle cx="926.8" cy="129.0" r="9.2" fill="#008000" stroke="#006a20" stroke-width="0.8"/>
<circle cx="943.0" cy="129.0" r="9.2" fill="#008000" stroke="#006a20" stroke-width="0.8"/>
<circle cx="959.3" cy="129.0" r="9.2" fill="#008000" stroke="#006a20" stroke-width="0.8"/>
<circle cx="975.6" cy="129.0" r="9.2" fill="#008000" stroke="#006a20" stroke-width="0.8"/>
<circle cx="991.9" cy="129.0" r="9.2" fill="#008000" stroke="#006a20" stroke-width="0.8"/>
<circle cx="1008.2" cy="129.0" r="9.2" fill="#008000" stroke="#006a20" stroke-width="0.8"/>
<circle cx="1024.4" cy="129.0" r="9.2" fill="#008000" stroke="#006a20" stroke-width="0.8"/>
<circle cx="1040.7" cy="129.0" r="9.2" fill="#008000" stroke="#006a20" stroke-width="0.8"/>
<circle cx="1057.0" cy="129.0" r="9.2" fill="#008000" stroke="#006a20" stroke-width="0.8"/>
<circle cx="1073.3" cy="129.0" r="9.2" fill="#008000" stroke="#006a20" stroke-width="0.8"/>
<circle cx="1089.6" cy="129.0" r="9.2" fill="#008000" stroke="#006a20" stroke-width="0.8"/>
<circle cx="1105.8" cy="129.0" r="9.2" fill="#008000" stroke="#006a20" stroke-width="0.8"/>
<circle cx="1122.1" cy="129.2" r="9.2" fill="#008000" stroke="#006a20" stroke-width="0.8"/>
<circle cx="1138.4" cy="129.3" r="9.2" fill="#008000" stroke="#006a20" stroke-width="0.8"/>
<circle cx="1154.7" cy="129.4" r="9.2" fill="#008000" stroke="#006a20" stroke-width="0.8"/>
<circle cx="1171.0" cy="129.5" r="9.2" fill="#008000" stroke="#006a20" stroke-width="0.8"/>
<circle cx="1187.2" cy="129.7" r="9.2" fill="#008000" stroke="#006a20" stroke-width="0.8"/>
<circle cx="1203.5" cy="129.8" r="9.2" fill="#008000" stroke="#006a20" stroke-width="0.8"/>
<circle cx="1219.8" cy="129.9" r="9.2" fill="#008000" stroke="#006a20" stroke-width="0.8"/>
<circle cx="1236.1" cy="130.0" r="9.2" fill="#008000" stroke="#006a20" stroke-width="0.8"/>
<circle cx="1252.4" cy="130.1" r="9.2" fill="#008000" stroke="#006a20" stroke-width="0.8"/>
<circle cx="1268.6" cy="130.3" r="9.2" fill="#008000" stroke="#006a20" stroke-width="0.8"/>
<circle cx="1284.9" cy="130.4" r="9.2" fill="#008000" stroke="#006a20" stroke-width="0.8"/>
<circle cx="1301.2" cy="130.5" r="9.2" fill="#008000" stroke="#006a20" stroke-width="0.8"/>
<circle cx="1317.5" cy="130.6" r="9.2" fill="#008000" stroke="#006a20" stroke-width="0.8"/>
<circle cx="1333.8" cy="130.7" r="9.2" fill="#008000" stroke="#006a20" stroke-width="0.8"/>
<circle cx="1350.0" cy="130.8" r="9.2" fill="#008000" stroke="#006a20" stroke-width="0.8"/>
<circle cx="1366.3" cy="130.9" r="9.2" fill="#008000" stroke="#006a20" stroke-width="0.8"/>
<circle cx="1382.6" cy="131.0" r="9.2" fill="#008000" stroke="#006a20" stroke-width="0.8"/>
<circle cx="1398.9" cy="131.1" r="9.2" fill="#008000" stroke="#006a20" stroke-width="0.8"/>
<circle cx="1415.2" cy="131.2" r="9.2" fill="#008000" stroke="#006a20" stroke-width="0.8"/>
<circle cx="1431.4" cy="131.3" r="9.2" fill="#008000" stroke="#006a20" stroke-width="0.8"/>
<circle cx="1447.7" cy="131.4" r="9.2" fill="#008000" stroke="#006a20" stroke-width="0.8"/>
<circle cx="1464.0" cy="131.5" r="9.2" fill="#008000" stroke="#006a20" stroke-width="0.8"/>
<polyline points="243.0,162.0 259.3,160.9 275.6,159.7 291.8,158.6 308.1,157.4 324.4,156.3 340.7,155.2 357.0,154.0 373.2,152.9 389.5,151.7 405.8,151.2 422.1,150.7 438.4,150.2 454.6,149.8 470.9,149.3 487.2,148.8 503.5,148.3 519.8,147.8 536.0,147.2 552.3,146.3 568.6,145.5 584.9,144.6 601.2,143.8 617.4,142.9 633.7,142.5 650.0,142.2 666.3,141.8 682.6,141.5 698.8,141.1 715.1,140.8 731.4,140.4 747.7,140.1 764.0,139.7 780.2,139.5 796.5,139.3 812.8,139.1 829.1,138.9 845.4,138.6 861.6,138.4 877.9,138.2 894.2,138.0 910.5,137.8 926.8,137.5 943.0,137.5 959.3,137.4 975.6,137.4 991.9,137.4 1008.2,137.3 1024.4,137.3 1040.7,137.3 1057.0,137.2 1073.3,137.2 1089.6,137.2 1105.8,137.1 1122.1,137.1 1138.4,137.1 1154.7,137.0 1171.0,137.0 1187.2,136.9 1203.5,136.8 1219.8,136.7 1236.1,136.7 1252.4,136.6 1268.6,136.5 1284.9,136.4 1301.2,136.3 1317.5,136.2 1333.8,136.1 1350.0,136.1 1366.3,136.0 1382.6,135.9 1398.9,135.8 1415.2,135.8 1431.4,135.8 1447.7,135.8 1464.0,135.8" fill="none" stroke="#202060" stroke-width="2.5"/>
<circle cx="243.0" cy="162.0" r="9.6" fill="#fcfcff" stroke="#909098" stroke-width="1.9"/>
<circle cx="259.3" cy="160.9" r="9.6" fill="#fcfcff" stroke="#909098" stroke-width="1.9"/>
<circle cx="275.6" cy="159.7" r="9.6" fill="#fcfcff" stroke="#909098" stroke-width="1.9"/>
<circle cx="291.8" cy="158.6" r="9.6" fill="#fcfcff" stroke="#909098" stroke-width="1.9"/>
<circle cx="308.1" cy="157.4" r="9.6" fill="#fcfcff" stroke="#909098" stroke-width="1.9"/>
<circle cx="324.4" cy="156.3" r="9.6" fill="#fcfcff" stroke="#909098" stroke-width="1.9"/>
<circle cx="340.7" cy="155.2" r="9.6" fill="#fcfcff" stroke="#909098" stroke-width="1.9"/>
<circle cx="357.0" cy="154.0" r="9.6" fill="#fcfcff" stroke="#909098" stroke-width="1.9"/>
<circle cx="373.2" cy="152.9" r="9.6" fill="#fcfcff" stroke="#909098" stroke-width="1.9"/>
<circle cx="389.5" cy="151.7" r="9.6" fill="#fcfcff" stroke="#909098" stroke-width="1.9"/>
<circle cx="405.8" cy="151.2" r="9.6" fill="#fcfcff" stroke="#909098" stroke-width="1.9"/>
<circle cx="422.1" cy="150.7" r="9.6" fill="#fcfcff" stroke="#909098" stroke-width="1.9"/>
<circle cx="438.4" cy="150.2" r="9.6" fill="#fcfcff" stroke="#909098" stroke-width="1.9"/>
<circle cx="454.6" cy="149.8" r="9.6" fill="#fcfcff" stroke="#909098" stroke-width="1.9"/>
<circle cx="470.9" cy="149.3" r="9.6" fill="#fcfcff" stroke="#909098" stroke-width="1.9"/>
<circle cx="487.2" cy="148.8" r="9.6" fill="#fcfcff" stroke="#909098" stroke-width="1.9"/>
<circle cx="503.5" cy="148.3" r="9.6" fill="#fcfcff" stroke="#909098" stroke-width="1.9"/>
<circle cx="519.8" cy="147.8" r="9.6" fill="#fcfcff" stroke="#909098" stroke-width="1.9"/>
<circle cx="536.0" cy="147.2" r="9.6" fill="#fcfcff" stroke="#909098" stroke-width="1.9"/>
<circle cx="552.3" cy="146.3" r="9.6" fill="#fcfcff" stroke="#909098" stroke-width="1.9"/>
<circle cx="568.6" cy="145.5" r="9.6" fill="#fcfcff" stroke="#909098" stroke-width="1.9"/>
<circle cx="584.9" cy="144.6" r="9.6" fill="#fcfcff" stroke="#909098" stroke-width="1.9"/>
<circle cx="601.2" cy="143.8" r="9.6" fill="#fcfcff" stroke="#909098" stroke-width="1.9"/>
<circle cx="617.4" cy="142.9" r="9.6" fill="#fcfcff" stroke="#909098" stroke-width="1.9"/>
<circle cx="633.7" cy="142.5" r="9.6" fill="#fcfcff" stroke="#909098" stroke-width="1.9"/>
<circle cx="650.0" cy="142.2" r="9.6" fill="#fcfcff" stroke="#909098" stroke-width="1.9"/>
<circle cx="666.3" cy="141.8" r="9.6" fill="#fcfcff" stroke="#909098" stroke-width="1.9"/>
<circle cx="682.6" cy="141.5" r="9.6" fill="#fcfcff" stroke="#909098" stroke-width="1.9"/>
<circle cx="698.8" cy="141.1" r="9.6" fill="#fcfcff" stroke="#909098" stroke-width="1.9"/>
<circle cx="715.1" cy="140.8" r="9.6" fill="#fcfcff" stroke="#909098" stroke-width="1.9"/>
<circle cx="731.4" cy="140.4" r="9.6" fill="#fcfcff" stroke="#909098" stroke-width="1.9"/>
<circle cx="747.7" cy="140.1" r="9.6" fill="#fcfcff" stroke="#909098" stroke-width="1.9"/>
<circle cx="764.0" cy="139.7" r="9.6" fill="#fcfcff" stroke="#909098" stroke-width="1.9"/>
<circle cx="780.2" cy="139.5" r="9.6" fill="#fcfcff" stroke="#909098" stroke-width="1.9"/>
<circle cx="796.5" cy="139.3" r="9.6" fill="#fcfcff" stroke="#909098" stroke-width="1.9"/>
<circle cx="812.8" cy="139.1" r="9.6" fill="#fcfcff" stroke="#909098" stroke-width="1.9"/>
<circle cx="829.1" cy="138.9" r="9.6" fill="#fcfcff" stroke="#909098" stroke-width="1.9"/>
<circle cx="845.4" cy="138.6" r="9.6" fill="#fcfcff" stroke="#909098" stroke-width="1.9"/>
<circle cx="861.6" cy="138.4" r="9.6" fill="#fcfcff" stroke="#909098" stroke-width="1.9"/>
<circle cx="877.9" cy="138.2" r="9.6" fill="#fcfcff" stroke="#909098" stroke-width="1.9"/>
<circle cx="894.2" cy="138.0" r="9.6" fill="#fcfcff" stroke="#909098" stroke-width="1.9"/>
<circle cx="910.5" cy="137.8" r="9.6" fill="#fcfcff" stroke="#909098" stroke-width="1.9"/>
<circle cx="926.8" cy="137.5" r="9.6" fill="#fcfcff" stroke="#909098" stroke-width="1.9"/>
<circle cx="943.0" cy="137.5" r="9.6" fill="#fcfcff" stroke="#909098" stroke-width="1.9"/>
<circle cx="959.3" cy="137.4" r="9.6" fill="#fcfcff" stroke="#909098" stroke-width="1.9"/>
<circle cx="975.6" cy="137.4" r="9.6" fill="#fcfcff" stroke="#909098" stroke-width="1.9"/>
<circle cx="991.9" cy="137.4" r="9.6" fill="#fcfcff" stroke="#909098" stroke-width="1.9"/>
<circle cx="1008.2" cy="137.3" r="9.6" fill="#fcfcff" stroke="#909098" stroke-width="1.9"/>
<circle cx="1024.4" cy="137.3" r="9.6" fill="#fcfcff" stroke="#909098" stroke-width="1.9"/>
<circle cx="1040.7" cy="137.3" r="9.6" fill="#fcfcff" stroke="#909098" stroke-width="1.9"/>
<circle cx="1057.0" cy="137.2" r="9.6" fill="#fcfcff" stroke="#909098" stroke-width="1.9"/>
<circle cx="1073.3" cy="137.2" r="9.6" fill="#fcfcff" stroke="#909098" stroke-width="1.9"/>
<circle cx="1089.6" cy="137.2" r="9.6" fill="#fcfcff" stroke="#909098" stroke-width="1.9"/>
<circle cx="1105.8" cy="137.1" r="9.6" fill="#fcfcff" stroke="#909098" stroke-width="1.9"/>
<circle cx="1122.1" cy="137.1" r="9.6" fill="#fcfcff" stroke="#909098" stroke-width="1.9"/>
<circle cx="1138.4" cy="137.1" r="9.6" fill="#fcfcff" stroke="#909098" stroke-width="1.9"/>
<circle cx="1154.7" cy="137.0" r="9.6" fill="#fcfcff" stroke="#909098" stroke-width="1.9"/>
<circle cx="1171.0" cy="137.0" r="9.6" fill="#fcfcff" stroke="#909098" stroke-width="1.9"/>
<circle cx="1187.2" cy="136.9" r="9.6" fill="#fcfcff" stroke="#909098" stroke-width="1.9"/>
<circle cx="1203.5" cy="136.8" r="9.6" fill="#fcfcff" stroke="#909098" stroke-width="1.9"/>
<circle cx="1219.8" cy="136.7" r="9.6" fill="#fcfcff" stroke="#909098" stroke-width="1.9"/>
<circle cx="1236.1" cy="136.7" r="9.6" fill="#fcfcff" stroke="#909098" stroke-width="1.9"/>
<circle cx="1252.4" cy="136.6" r="9.6" fill="#fcfcff" stroke="#909098" stroke-width="1.9"/>
<circle cx="1268.6" cy="136.5" r="9.6" fill="#fcfcff" stroke="#909098" stroke-width="1.9"/>
<circle cx="1284.9" cy="136.4" r="9.6" fill="#fcfcff" stroke="#909098" stroke-width="1.9"/>
<circle cx="1301.2" cy="136.3" r="9.6" fill="#fcfcff" stroke="#909098" stroke-width="1.9"/>
<circle cx="1317.5" cy="136.2" r="9.6" fill="#fcfcff" stroke="#909098" stroke-width="1.9"/>
<circle cx="1333.8" cy="136.1" r="9.6" fill="#fcfcff" stroke="#909098" stroke-width="1.9"/>
<circle cx="1350.0" cy="136.1" r="9.6" fill="#fcfcff" stroke="#909098" stroke-width="1.9"/>
<circle cx="1366.3" cy="136.0" r="9.6" fill="#fcfcff" stroke="#909098" stroke-width="1.9"/>
<circle cx="1382.6" cy="135.9" r="9.6" fill="#fcfcff" stroke="#909098" stroke-width="1.9"/>
<circle cx="1398.9" cy="135.8" r="9.6" fill="#fcfcff" stroke="#909098" stroke-width="1.9"/>
<circle cx="1415.2" cy="135.8" r="9.6" fill="#fcfcff" stroke="#909098" stroke-width="1.9"/>
<circle cx="1431.4" cy="135.8" r="9.6" fill="#fcfcff" stroke="#909098" stroke-width="1.9"/>
<circle cx="1447.7" cy="135.8" r="9.6" fill="#fcfcff" stroke="#909098" stroke-width="1.9"/>
<circle cx="1464.0" cy="135.8" r="9.6" fill="#fcfcff" stroke="#909098" stroke-width="1.9"/>
</g>
<path d="M241,64.3H1466" stroke="#111" stroke-width="3" fill="none"/>
<path d="M241,964.2H1466" stroke="#000" stroke-width="3.5" fill="none"/>
<path d="M243,62.8V966" stroke="#000" stroke-width="4.2" fill="none"/>
<path d="M1464.3,62.8V966" stroke="#111" stroke-width="3.3" fill="none"/>
<path d="M224,964.0H244M233,874.0H244M224,784.0H244M233,694.0H244M224,604.0H244M233,514.0H244M224,424.0H244M233,334.0H244M224,244.0H244M233,154.0H244M224,64.0H244" stroke="#000" stroke-width="3.2" fill="none"/>
<path d="M243.0,963V983M446.5,963V983M650.0,963V983M853.5,963V983M1057.0,963V983M1260.5,963V983M1464.0,963V983" stroke="#000" stroke-width="4" fill="none"/>
<path d="M344.8,963V974M548.2,963V974M751.8,963V974M955.2,963V974M1158.8,963V974M1362.2,963V974" stroke="#333" stroke-width="3.4" fill="none"/>
<text transform="translate(213.5,980.5) scale(0.955,1)" text-anchor="end" class="tk">0</text>
<text transform="translate(213.5,800.5) scale(0.955,1)" text-anchor="end" class="tk">20</text>
<text transform="translate(213.5,620.5) scale(0.955,1)" text-anchor="end" class="tk">40</text>
<text transform="translate(213.5,440.5) scale(0.955,1)" text-anchor="end" class="tk">60</text>
<text transform="translate(213.5,260.5) scale(0.955,1)" text-anchor="end" class="tk">80</text>
<text transform="translate(213.5,80.5) scale(0.955,1)" text-anchor="end" class="tk">100</text>
<text transform="translate(241.5,1038) scale(0.955,1)" text-anchor="middle" class="tk">400</text>
<text transform="translate(445.0,1038) scale(0.955,1)" text-anchor="middle" class="tk">450</text>
<text transform="translate(648.5,1038) scale(0.955,1)" text-anchor="middle" class="tk">500</text>
<text transform="translate(852.0,1038) scale(0.955,1)" text-anchor="middle" class="tk">550</text>
<text transform="translate(1055.5,1038) scale(0.955,1)" text-anchor="middle" class="tk">600</text>
<text transform="translate(1259.0,1038) scale(0.955,1)" text-anchor="middle" class="tk">650</text>
<text transform="translate(1462.5,1038) scale(0.955,1)" text-anchor="middle" class="tk">700</text>
<text transform="translate(883,1132) scale(0.972,1)" text-anchor="middle" class="al">Wavelength (nm)</text>
<text transform="translate(102,560.3) rotate(-90)" text-anchor="middle" class="yl">Transmittance (%)</text>
<line x1="981" y1="601" x2="1091" y2="601" stroke="#000" stroke-width="4"/>
<path d="M1036,588L1049.5,608.5L1022.5,608.5Z" fill="#000"/>
<text x="1103.3" y="616.5" class="lg">Sapphire</text>
<line x1="981" y1="659.5" x2="1091" y2="659.5" stroke="#d84040" stroke-width="4"/>
<rect x="1025.5" y="648.5" width="21" height="21.5" fill="#ff0000" stroke="#e00000" stroke-width="1"/>
<text x="1103.3" y="675.0" class="lg">as-deposited Si</text>
<line x1="981" y1="718.4" x2="1091" y2="718.4" stroke="#4a4a92" stroke-width="4"/>
<rect x="1027.5" y="708.9" width="17" height="18.5" fill="#fbfbff" stroke="#7070a0" stroke-width="2.2"/>
<text x="1103.3" y="733.9" class="lg">723 K</text>
<line x1="981" y1="776.6" x2="1091" y2="776.6" stroke="#cc50b8" stroke-width="4"/>
<path d="M1023.5,771.1h25L1036,792.6Z" fill="#ffd4f0" fill-opacity="0.45" stroke="#d47cc8" stroke-width="2"/>
<text x="1103.3" y="792.1" class="lg">773 K</text>
<line x1="981" y1="836.2" x2="1091" y2="836.2" stroke="#1e1e60" stroke-width="4"/>
<circle cx="1036" cy="836.2" r="9.5" fill="#fcfcff" stroke="#909098" stroke-width="2.2"/>
<text x="1103.3" y="851.7" class="lg">823 K</text>
<line x1="981" y1="894.5" x2="1091" y2="894.5" stroke="#3a8450" stroke-width="4"/>
<circle cx="1036" cy="894.5" r="10.5" fill="#008000"/>
<text x="1103.3" y="910.0" class="lg">Simulated SiO<tspan class="sub" dy="16.7">2</tspan></text>
</g>
</svg>
</body></html>
